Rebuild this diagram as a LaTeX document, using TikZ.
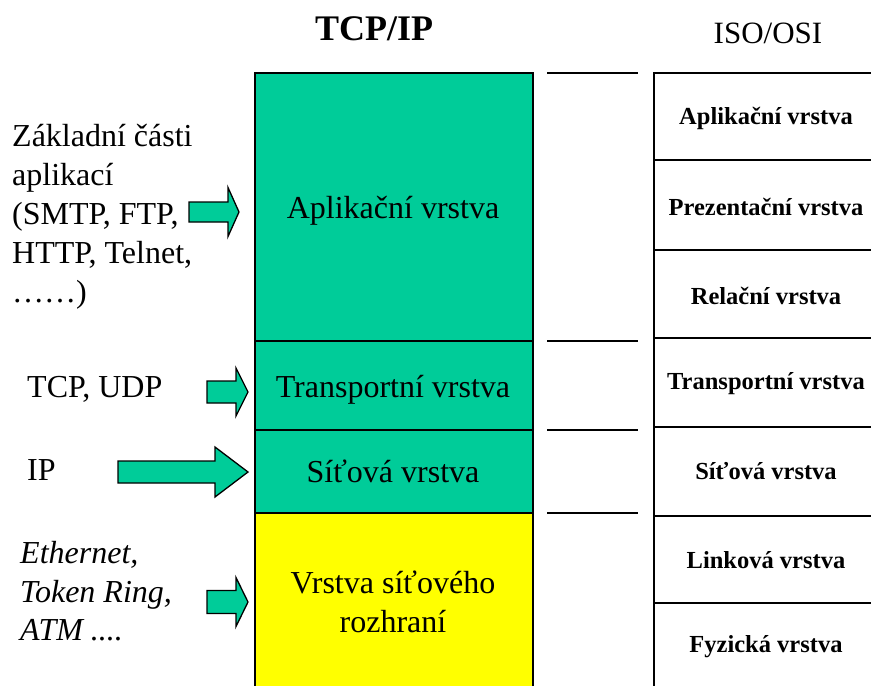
\documentclass[tikz,border=0pt]{standalone}
\usepackage{fontspec}
\setmainfont{Liberation Serif}
\definecolor{layergreen}{RGB}{0,204,153}
\definecolor{layeryellow}{RGB}{255,255,0}
\tikzset{
  layerbox/.style={draw=black, line width=2pt},
  osiline/.style={draw=black, line width=1.3pt},
  gapline/.style={draw=black, line width=1.6pt},
  bigtext/.style={font=\fontsize{32}{39}\selectfont, inner sep=0pt},
  ositext/.style={font=\fontsize{24.5}{29}\selectfont\bfseries, inner sep=0pt},
  blockarrow/.style={fill=layergreen, draw=black, line width=1.3pt, line join=miter},
}
% block arrow: left end, head base, tip, centre y, half body height, half head height
\newcommand{\blockarr}[6]{%
  \draw[blockarrow] (#1,#4-#5) -- (#2,#4-#5) -- (#2,#4-#6) -- (#3,#4)
    -- (#2,#4+#6) -- (#2,#4+#5) -- (#1,#4+#5) -- cycle;}
\begin{document}
\begin{tikzpicture}[x=1pt,y=-1pt]
\useasboundingbox (0,0) rectangle (871,686);

% TCP/IP stack
\fill[layergreen] (255,73) rectangle (533,513);
\fill[layeryellow] (255,513) rectangle (533,690);
\draw[layerbox] (255,690) -- (255,73) -- (533,73) -- (533,690);
\draw[layerbox] (255,341) -- (533,341);
\draw[layerbox] (255,430) -- (533,430);
\draw[layerbox] (255,513) -- (533,513);

\node[font=\fontsize{36}{40}\selectfont\bfseries, inner sep=0pt, anchor=base] (tcpip) at (374,40) {TCP/IP};
\node[font=\fontsize{31}{36}\selectfont, inner sep=0pt, anchor=base] (isoosi) at (768,43) {ISO/OSI};

\node[bigtext, anchor=base] (app) at (393,218) {Aplikační vrstva};
\node[bigtext, anchor=base] (trans) at (393,397) {Transportní vrstva};
\node[bigtext, anchor=base] (net) at (393,482) {Síťová vrstva};
\node[bigtext, anchor=base] (link1) at (393,593) {Vrstva síťového};
\node[bigtext, anchor=base] (link2) at (393,632) {rozhraní};

% separators between the two models
\foreach \yy in {73,341,430,513}
  \draw[gapline] (547,\yy) -- (638,\yy);

% ISO/OSI stack
\draw[osiline] (654,690) -- (654,73) -- (875,73);
\foreach \yy in {160,250,338,427,516,603}
  \draw[osiline] (654,\yy) -- (875,\yy);

\node[ositext] (o7) at (766,118) {Aplikační vrstva};
\node[ositext] (o6) at (766,207) {Prezentační vrstva};
\node[ositext] (o5) at (766,296) {Relační vrstva};
\node[ositext] (o4) at (766,384) {Transportní vrstva};
\node[ositext] (o3) at (766,471) {Síťová vrstva};
\node[ositext] (o2) at (766,560) {Linková vrstva};
\node[ositext] (o1) at (766,647) {Fyzická vrstva};

% protocols on the left
\node[bigtext, anchor=base west] (l1) at (12,146) {Základní části};
\node[bigtext, anchor=base west] (l2) at (12,185) {aplikací};
\node[bigtext, anchor=base west] (l3) at (12,224) {(SMTP, FTP,};
\node[bigtext, anchor=base west] (l4) at (12,263) {HTTP, Telnet,};
\node[bigtext, anchor=base west] (l5) at (12,302) {……)};
\node[bigtext, anchor=base west] (tcpudp) at (27,397) {TCP, UDP};
\node[bigtext, anchor=base west] (ip) at (27,480) {IP};
\node[bigtext, anchor=base west, font=\fontsize{32}{39}\selectfont\itshape] (e1) at (20,563) {Ethernet,};
\node[bigtext, anchor=base west, font=\fontsize{32}{39}\selectfont\itshape] (e2) at (20,602) {Token Ring,};
\node[bigtext, anchor=base west, font=\fontsize{32}{39}\selectfont\itshape] (e3) at (20,640) {ATM ....};

% arrows into the stack
\blockarr{189}{228}{239}{212}{10}{24.5}
\blockarr{207}{236}{248}{392}{11}{24}
\blockarr{118}{215}{248}{472}{11}{25}
\blockarr{207}{236}{248}{602}{11.5}{24.5}
\end{tikzpicture}
\end{document}
